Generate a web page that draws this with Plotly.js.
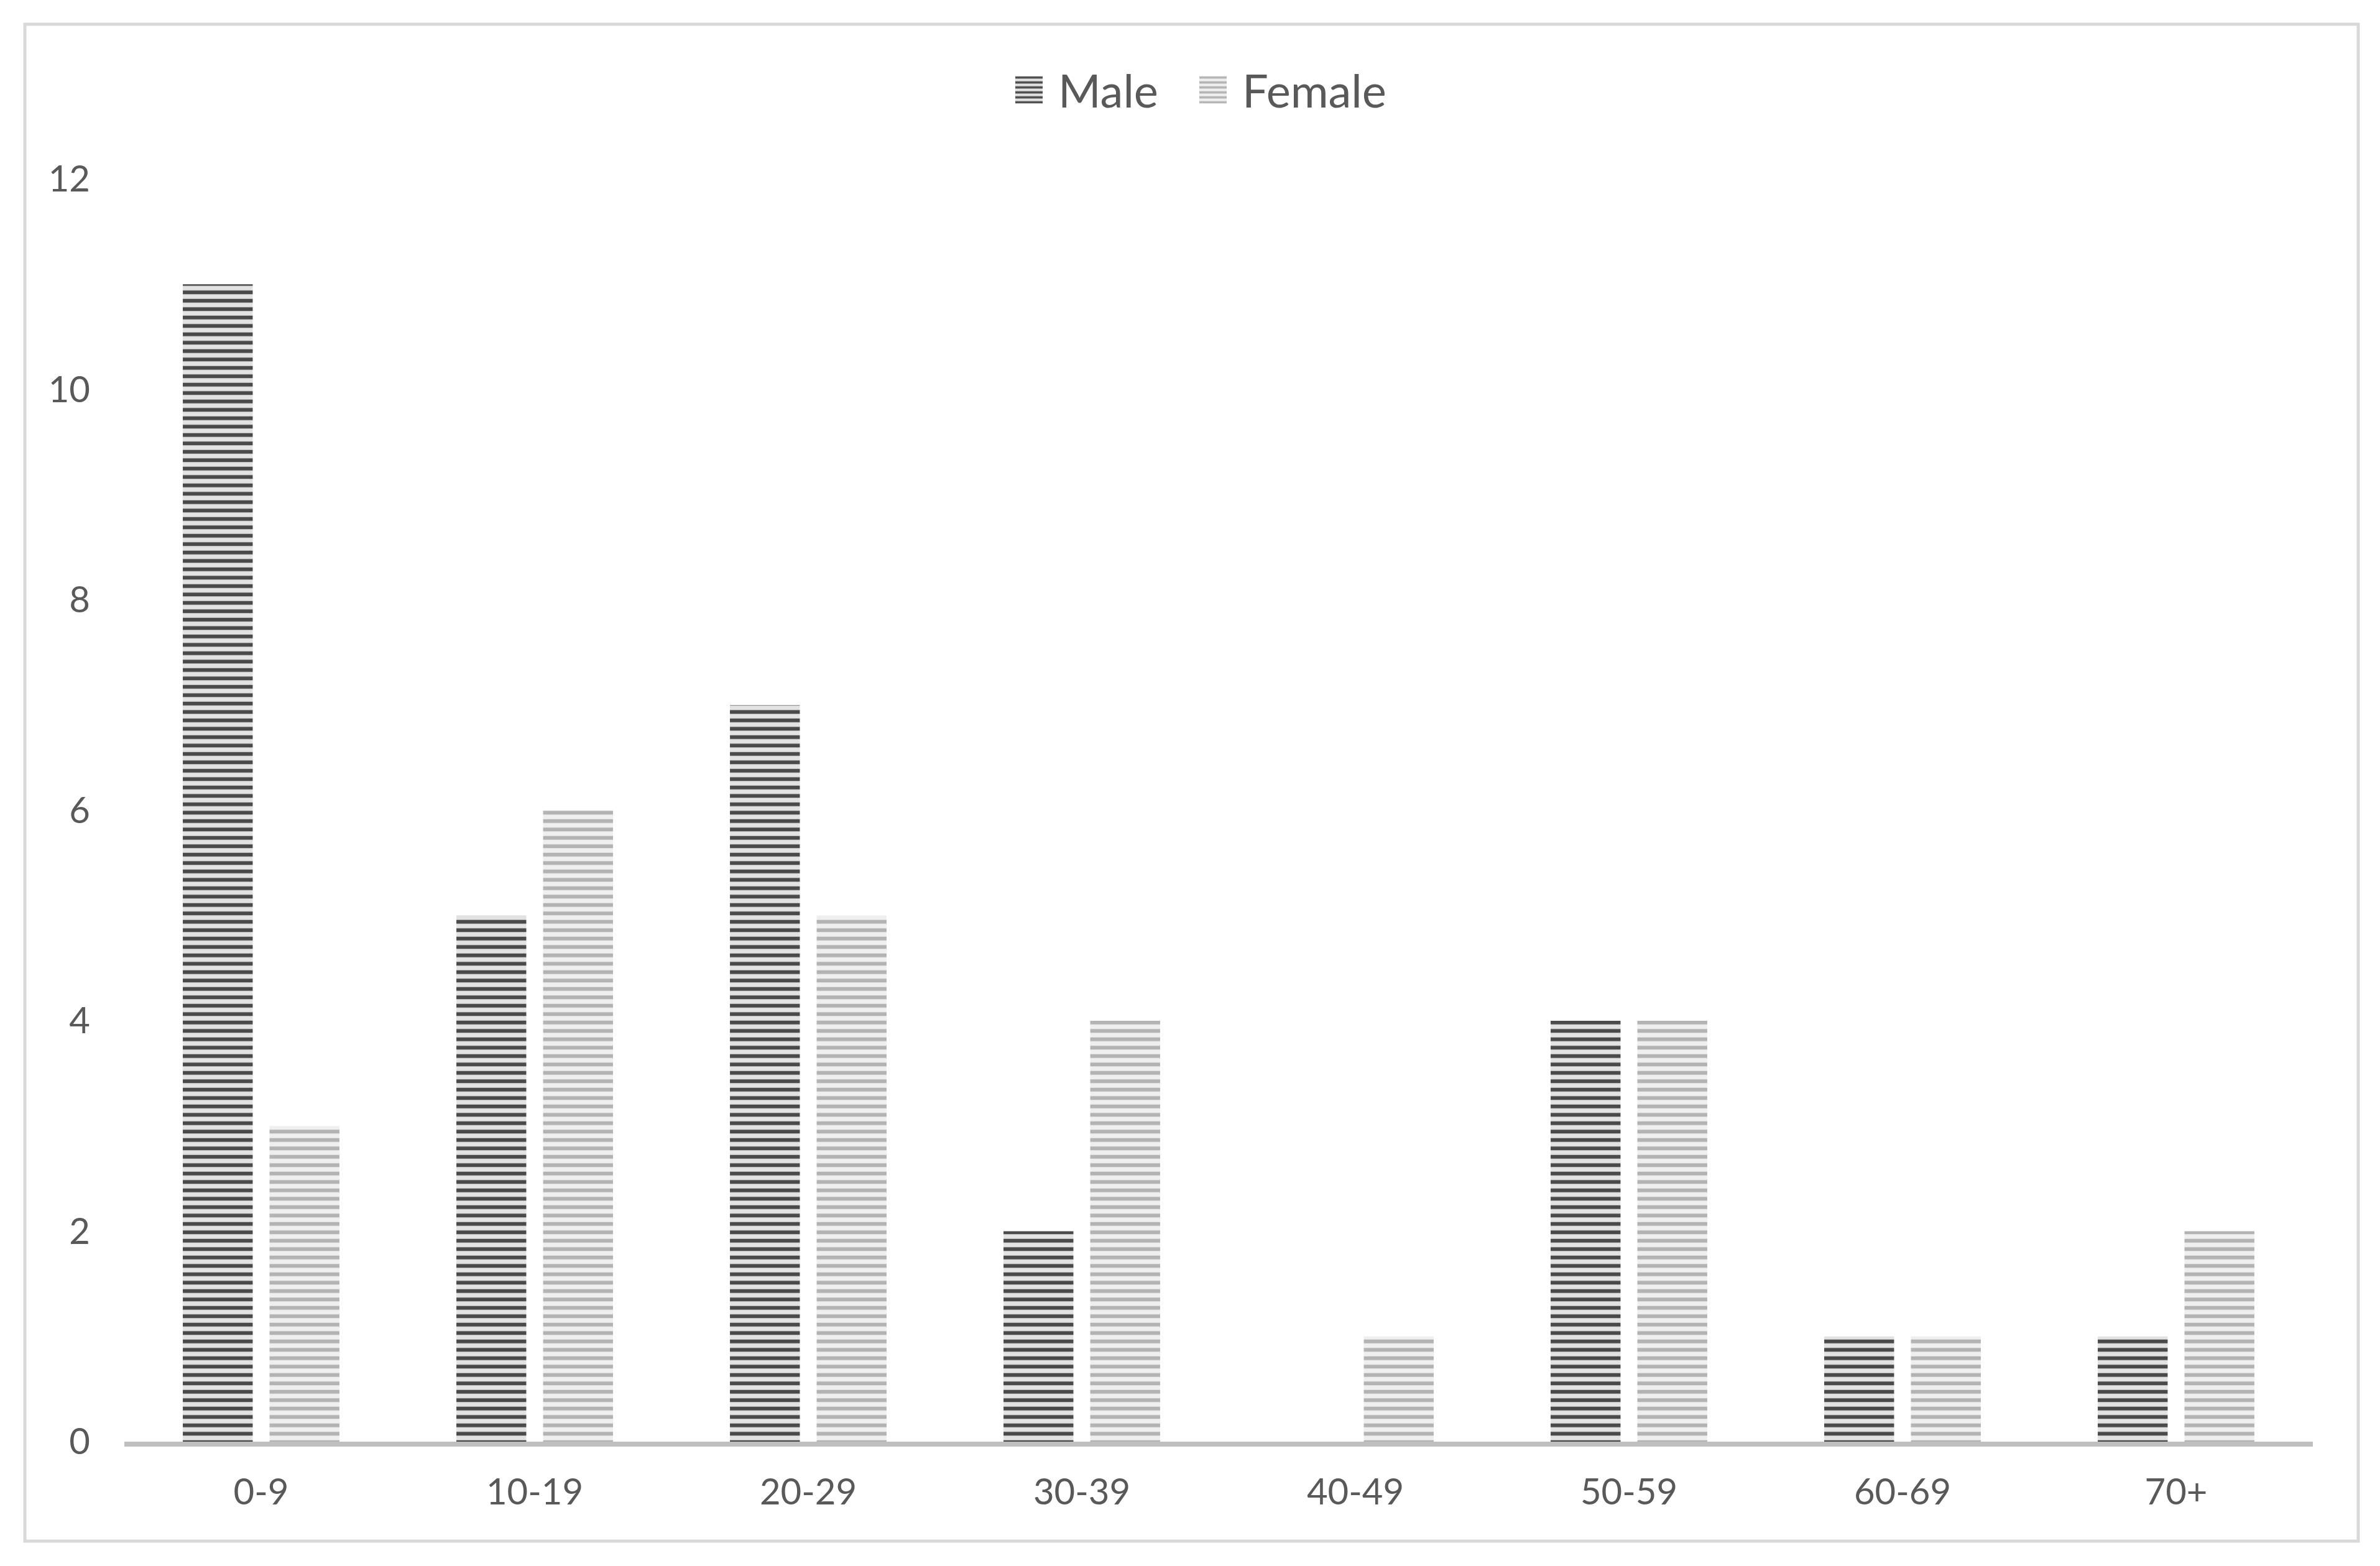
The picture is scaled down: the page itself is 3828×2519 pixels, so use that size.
<!DOCTYPE html>
<html>
<head>
<meta charset="utf-8">
<script src="https://cdn.plot.ly/plotly-3.0.1.min.js"></script>
<style>
  html, body { margin: 0; padding: 0; background: #ffffff; }
  #chart { width: 3828px; height: 2519px; }
</style>
</head>
<body>
<div id="chart"></div>
<script>
// ---- data ----
const categories = ['0-9', '10-19', '20-29', '30-39', '40-49', '50-59', '60-69', '70+'];
const maleCounts = [11, 5, 7, 2, 0, 4, 1, 1];
const femaleCounts = [3, 6, 5, 4, 1, 4, 1, 2];
const seriesNames = ['Male', 'Female'];
const yTickValues = [0, 2, 4, 6, 8, 10, 12];

const textColor = '#595959';
const fontFamily = 'Lato, "Open Sans", sans-serif';

const traces = [
  {
    type: 'bar',
    name: seriesNames[0],
    legend: 'legend',
    x: categories,
    y: maleCounts,
    marker: {
      color: '#dcdcdc',
      line: { width: 0 },
      pattern: { shape: '-', fgcolor: '#4a4a4a', bgcolor: '#e2e2e2', size: 13.5, solidity: 0.45, fillmode: 'replace' }
    },
    hoverinfo: 'skip'
  },
  {
    type: 'bar',
    name: seriesNames[1],
    legend: 'legend2',
    x: categories,
    y: femaleCounts,
    marker: {
      color: '#eeeeee',
      line: { width: 0 },
      pattern: { shape: '-', fgcolor: '#b3b3b3', bgcolor: '#efefef', size: 13.5, solidity: 0.45, fillmode: 'replace' }
    },
    hoverinfo: 'skip'
  }
];

// pixel helpers (plot area: x 200..3720, y 288..2319)
const L = 200, R = 3720, T = 288, B = 2319;
const px = v => (v - L) / (R - L);
const py = v => (B - v) / (B - T);

function legendAt(leftPx) {
  return {
    orientation: 'h',
    xref: 'paper', yref: 'paper',
    x: px(leftPx), xanchor: 'left',
    y: py(145), yanchor: 'middle',
    font: { family: fontFamily, size: 74, color: textColor },
    itemwidth: 84,
    bgcolor: 'rgba(0,0,0,0)',
    borderwidth: 0,
    itemclick: false, itemdoubleclick: false
  };
}

const layout = {
  width: 3828,
  height: 2519,
  paper_bgcolor: '#ffffff',
  plot_bgcolor: '#ffffff',
  margin: { l: L, r: 3828 - R, t: T, b: 2519 - B, pad: 0 },
  barmode: 'group',
  bargap: 0.366,
  bargroupgap: 0.194,
  font: { family: fontFamily, color: textColor, size: 58 },
  showlegend: true,
  legend: legendAt(1633 - 25),
  legend2: legendAt(1929 - 25),
  xaxis: {
    type: 'category',
    showline: true,
    linecolor: '#bfbfbf',
    linewidth: 8,
    showgrid: false,
    zeroline: false,
    ticks: '',
    ticklabelstandoff: 23,
    tickfont: { family: fontFamily, size: 58, color: textColor },
    fixedrange: true
  },
  yaxis: {
    range: [0, 12],
    tickvals: yTickValues,
    showline: false,
    showgrid: false,
    zeroline: false,
    ticks: '',
    ticklabelstandoff: 54,
    tickfont: { family: fontFamily, size: 58, color: textColor },
    fixedrange: true
  },
  shapes: [
    {
      type: 'rect', xref: 'paper', yref: 'paper',
      x0: px(40), x1: px(3793), y0: py(2479), y1: py(39),
      line: { color: '#d9d9d9', width: 5 },
      fillcolor: 'rgba(0,0,0,0)',
      layer: 'below'
    }
  ]
};

function enlargeSwatches(gd) {
  // enlarge legend bar swatches to match the reference's square markers
  gd.querySelectorAll('g.legendpoints path').forEach(p => {
    p.setAttribute('d', 'M22,22H-22V-22H22Z');
  });
}

const gdDiv = document.getElementById('chart');
Plotly.newPlot(gdDiv, traces, layout, { staticPlot: true, displayModeBar: false }).then(gd => {
  enlargeSwatches(gd);
  gd.on('plotly_afterplot', () => enlargeSwatches(gd));
  setTimeout(() => enlargeSwatches(gd), 50);
  setTimeout(() => enlargeSwatches(gd), 300);
});
</script>
</body>
</html>
